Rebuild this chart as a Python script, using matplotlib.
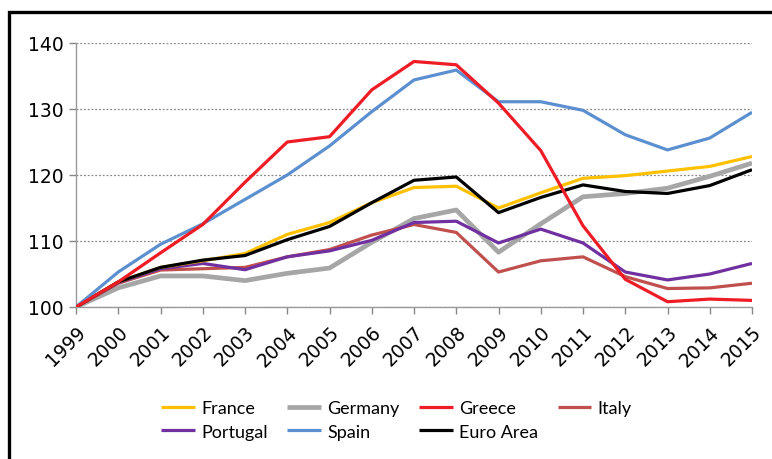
import matplotlib.pyplot as plt
from matplotlib.patches import Rectangle

years = list(range(1999, 2016))

france = [100, 103.8, 106.0, 107.0, 108.1, 111.0, 112.8, 115.8, 118.1, 118.3,
          115.0, 117.3, 119.5, 119.9, 120.6, 121.3, 122.8]
germany = [100, 102.9, 104.7, 104.7, 104.0, 105.1, 105.9, 109.8, 113.4, 114.7,
           108.3, 112.6, 116.7, 117.2, 118.0, 119.8, 121.8]
greece = [100, 103.8, 108.2, 112.5, 118.9, 125.0, 125.8, 132.9, 137.2, 136.7,
          130.9, 123.7, 112.3, 104.2, 100.8, 101.2, 101.0]
italy = [100, 103.6, 105.6, 105.8, 106.0, 107.6, 108.7, 110.9, 112.5, 111.3,
         105.3, 107.0, 107.6, 104.6, 102.8, 102.9, 103.6]
portugal = [100, 103.7, 105.8, 106.6, 105.65, 107.6, 108.5, 110.1, 112.8, 113.0,
            109.7, 111.8, 109.7, 105.3, 104.1, 105.0, 106.6]
spain = [100, 105.3, 109.5, 112.6, 116.3, 120.0, 124.4, 129.6, 134.4, 135.9,
         131.1, 131.1, 129.8, 126.1, 123.8, 125.6, 129.5]
euro_area = [100, 103.8, 106.0, 107.1, 107.8, 110.2, 112.2, 115.8, 119.2, 119.7,
             114.3, 116.6, 118.5, 117.5, 117.2, 118.4, 120.8]

# legend order is row-wise in the picture, matplotlib fills column-wise
series = [
    ('France', france, '#FFC000', 2.3),
    ('Portugal', portugal, '#7030A0', 2.3),
    ('Germany', germany, '#A6A6A6', 3.4),
    ('Spain', spain, '#5B8FD0', 2.3),
    ('Greece', greece, '#EE1C25', 2.3),
    ('Euro Area', euro_area, '#000000', 2.3),
    ('Italy', italy, '#C0504D', 2.3),
]
draw_order = ['Germany', 'Italy', 'Portugal', 'France', 'Euro Area', 'Spain', 'Greece']

fig = plt.figure(figsize=(7.72, 4.60), dpi=100)
ax = fig.add_axes([76 / 772, 1 - 308 / 460, 676 / 772, 264 / 460])

lines = {}
for name, vals, color, lw in series:
    ln, = ax.plot(years, vals, color=color, lw=lw, label=name,
                  zorder=3 + draw_order.index(name), solid_capstyle='butt')
    lines[name] = ln

ax.set_xlim(1999, 2015)
ax.set_ylim(100, 140)
ax.set_yticks([100, 110, 120, 130, 140])
ax.set_xticks(years)
ax.set_xticklabels([str(y) for y in years], rotation=45, ha='right',
                   rotation_mode='anchor')
ax.tick_params(axis='both', labelsize=13.5, color='#888888', length=5,
               width=1, pad=4)
ax.tick_params(axis='x', pad=6)

ax.grid(axis='y', color='#888888', linestyle=(0, (1.5, 1.5)), linewidth=0.9)
ax.set_axisbelow(True)
for side in ['top', 'right']:
    ax.spines[side].set_visible(False)
for side in ['left', 'bottom']:
    ax.spines[side].set_color('#999999')
    ax.spines[side].set_linewidth(1)

handles = [lines[s[0]] for s in series]
fig.legend(handles, [s[0] for s in series], ncol=4, frameon=False,
           loc='center left', bbox_to_anchor=(145 / 772, 1 - 421 / 460),
           prop={'family': 'Lato', 'size': 13}, handlelength=1.85,
           handletextpad=0.35, columnspacing=1.1, labelspacing=0.42)

# outer frame that runs off the right and bottom of the image
fig.patches.append(Rectangle((9 / 772, -0.1), 1.2, 1 - 13 / 460 + 0.1,
                             transform=fig.transFigure, fill=False,
                             edgecolor='black', linewidth=2.4, zorder=0))

fig.savefig('out.png', dpi=100)
